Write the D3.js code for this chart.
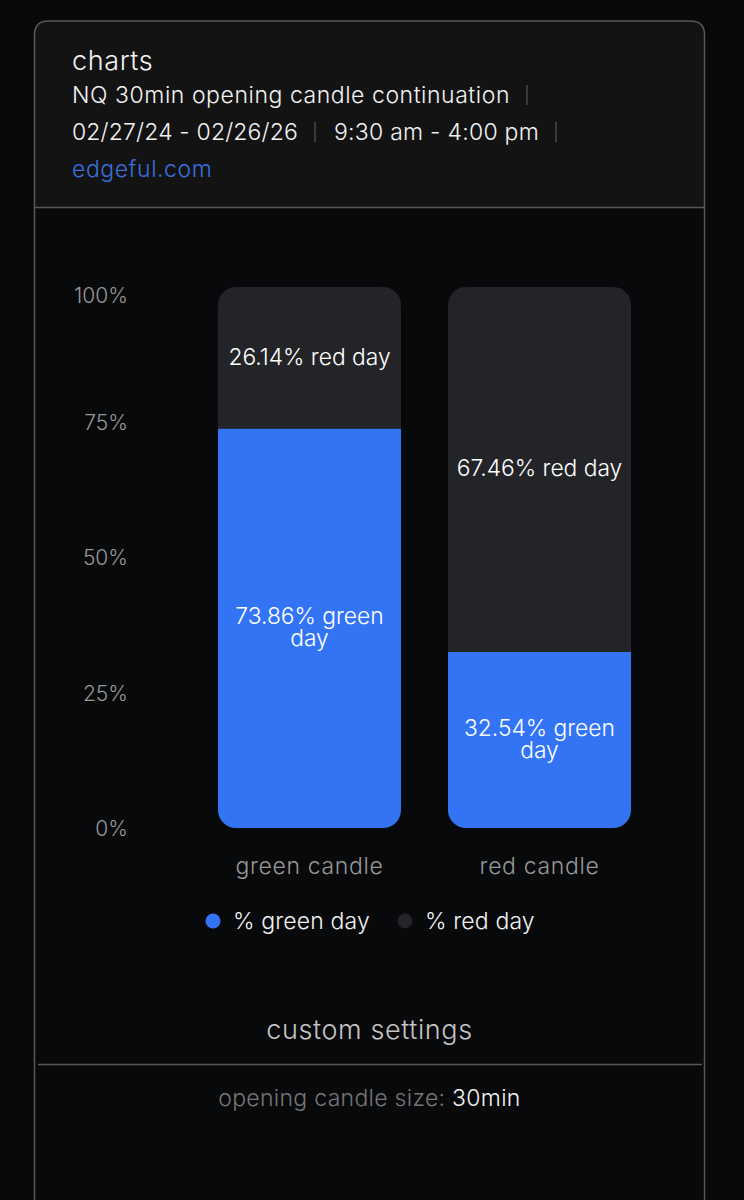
<!DOCTYPE html>
<html>
<head>
<meta charset="utf-8">
<script src="https://cdnjs.cloudflare.com/ajax/libs/d3/7.8.5/d3.min.js"></script>
<style>
  html, body { margin: 0; padding: 0; background: #08090b; }
  svg { display: block; }
  text { font-family: Inter, "Open Sans", sans-serif; font-weight: 300; }
  .domain, .tick line { display: none; }
</style>
</head>
<body>
<svg id="chart" width="744" height="1200"></svg>
<script>
var categories = ["green candle", "red candle"];
var greenValues = [73.86, 32.54];
var redValues = [26.14, 67.46];
var greenLabels = [["73.86% green", "day"], ["32.54% green", "day"]];
var redLabels = [["26.14% red day"], ["67.46% red day"]];
var yTicks = [0, 25, 50, 75, 100];
var legendNames = ["% green day", "% red day"];

var blue = "#3374f5", dark = "#232427", line = "#58585a", gray = "#979797";

var svg = d3.select("#chart");

// header panel, then the card frame which runs off the bottom of the page
svg.append("path").attr("d", "M34.5,207.5L34.5,35Q34.5,21 48.5,21L690.5,21Q704.5,21 704.5,35L704.5,207.5Z")
  .attr("fill", "#131314");
svg.append("path").attr("d", "M34.5,1210L34.5,35Q34.5,21 48.5,21L690.5,21Q704.5,21 704.5,35L704.5,1210")
  .attr("fill", "none").attr("stroke", line).attr("stroke-width", 1.5);
svg.append("line").attr("x1", 34).attr("x2", 705).attr("y1", 207.5).attr("y2", 207.5).attr("stroke", line).attr("stroke-width", 1.5);
svg.append("line").attr("x1", 38).attr("x2", 702).attr("y1", 1064.5).attr("y2", 1064.5).attr("stroke", line).attr("stroke-width", 1.5);

function label(x, y, str, size, fill, anchor, spacing) {
  return svg.append("text").attr("x", x).attr("y", y).attr("font-size", size)
    .attr("fill", fill).attr("text-anchor", anchor || "start")
    .attr("letter-spacing", spacing || 0).text(str);
}

// header
label(72, 70, "charts", 27, "#f2f2f2", "start", 0.6);
label(72, 103, "NQ 30min opening candle continuation", 23, "#f2f2f2", "start", 0.55);
label(72, 140, "02/27/24 - 02/26/26", 23, "#f2f2f2", "start", 0.15);
label(334, 140, "9:30 am - 4:00 pm", 23, "#f2f2f2", "start", 0.25);
label(72, 177, "edgeful.com", 23, "#3a6fdc", "start", 0.55);
[[527, 95], [315, 132], [556, 132]].forEach(function(p) {
  svg.append("line").attr("x1", p[0]).attr("x2", p[0]).attr("y1", p[1] - 10).attr("y2", p[1] + 10)
    .attr("stroke", "#4a4a4c").attr("stroke-width", 1.5);
});

// scales
var x = d3.scaleBand().domain(categories).range([194.5, 654.5]).paddingInner(47 / 230).paddingOuter(47 / 460);
var y = d3.scaleLinear().domain([0, 100]).range([828, 287]);
var radius = 18;

var yAxis = svg.append("g").attr("transform", "translate(128,0)")
  .call(d3.axisLeft(y).tickValues(yTicks).tickSize(0).tickPadding(0).tickFormat(function(d) { return d + "%"; }));
yAxis.selectAll("text").attr("font-size", 21).attr("fill", gray)
  .attr("dy", function(d) { return d === 100 ? "0.72em" : "0.35em"; });

var xAxis = svg.append("g").attr("transform", "translate(0,828)")
  .call(d3.axisBottom(x).tickSize(0).tickPadding(0));
xAxis.selectAll("text").attr("font-size", 23).attr("letter-spacing", 0.65).attr("fill", gray).attr("y", 46).attr("dy", 0);
svg.selectAll("g").attr("font-family", null);

function roundedTop(x0, w, top, bottom) {
  var p = d3.path();
  p.moveTo(x0, bottom);
  p.lineTo(x0, top + radius);
  p.arcTo(x0, top, x0 + radius, top, radius);
  p.lineTo(x0 + w - radius, top);
  p.arcTo(x0 + w, top, x0 + w, top + radius, radius);
  p.lineTo(x0 + w, bottom);
  p.closePath();
  return p.toString();
}
function roundedBottom(x0, w, top, bottom) {
  var p = d3.path();
  p.moveTo(x0, top);
  p.lineTo(x0 + w, top);
  p.lineTo(x0 + w, bottom - radius);
  p.arcTo(x0 + w, bottom, x0 + w - radius, bottom, radius);
  p.lineTo(x0 + radius, bottom);
  p.arcTo(x0, bottom, x0, bottom - radius, radius);
  p.closePath();
  return p.toString();
}

// stacked bars
svg.selectAll(".green").data(categories).enter().append("path").attr("class", "green")
  .attr("fill", blue)
  .attr("d", function(c, i) { return roundedBottom(x(c), x.bandwidth(), y(greenValues[i]), y(0)); });
svg.selectAll(".red").data(categories).enter().append("path").attr("class", "red")
  .attr("fill", dark)
  .attr("d", function(c, i) { return roundedTop(x(c), x.bandwidth(), y(100), y(greenValues[i])); });

function barLabel(c, lines, mid) {
  var t = svg.append("text").attr("text-anchor", "middle").attr("font-size", 22.8).attr("fill", "#fff");
  var lh = 22;
  lines.forEach(function(s, j) {
    t.append("tspan").attr("x", x(c) + x.bandwidth() / 2)
      .attr("y", mid + 7 + (j - (lines.length - 1) / 2) * lh).text(s);
  });
}
categories.forEach(function(c, i) {
  barLabel(c, greenLabels[i], (y(0) + y(greenValues[i])) / 2);
  barLabel(c, redLabels[i], (y(100) + y(greenValues[i])) / 2);
});

// legend
var legendX = [213, 405], legendColors = [blue, dark];
legendNames.forEach(function(n, i) {
  svg.append("circle").attr("cx", legendX[i]).attr("cy", 921).attr("r", 7.5).attr("fill", legendColors[i]);
  label(legendX[i] + 20, 929, n, 23, "#f2f2f2", "start", 0.15);
});

// settings
label(369.5, 1039, "custom settings", 27, "#c4c4c4", "middle", 0.6);
var s = svg.append("text").attr("x", 369.5).attr("y", 1106).attr("text-anchor", "middle")
  .attr("font-size", 23).attr("letter-spacing", 0.3);
s.append("tspan").attr("fill", "#767676").text("opening candle size: ");
s.append("tspan").attr("fill", "#f2f2f2").text("30min");
</script>
</body>
</html>
